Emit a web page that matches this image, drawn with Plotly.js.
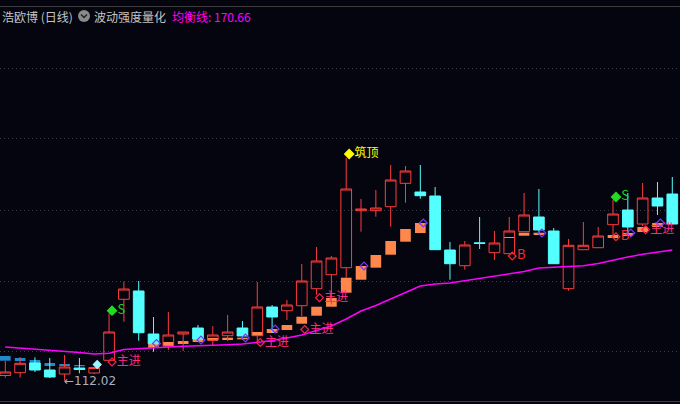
<!DOCTYPE html>
<html><head><meta charset="utf-8">
<script src="https://cdn.plot.ly/plotly-3.0.1.min.js"></script>
<style>html,body{margin:0;padding:0;background:#05050f;}#chart{width:680px;height:404px;}</style>
</head><body><div id="chart"></div>
<script>
// ---- candle data (price units) ----
const openP  = [114.27,115.52,119.88,116.74,114.94,117.64,115.39,121.10,148.51,152.24,132.91,127.52,132.91,135.61,130.22,132.15,135.61,132.15,145.05,143.38,145.63,153.27,159.56,162.71,188.32,188.32,190.12,200.63,196.72,194.92,170.66,163.60,173.90,169.45,169.00,178.88,185.49,179.20,153.27,170.79,171.69,182.03,188.63,182.34,194.02,195.82];
const highP  = [120.78,122.58,122.44,122.13,123.48,122.13,118.09,142.22,156.41,156.73,140.55,142.80,133.81,136.96,136.51,141.45,138.76,156.28,145.95,148.19,164.37,172.01,167.96,212.00,193.58,197.62,208.85,208.40,208.85,198.97,174.25,174.70,185.49,179.20,185.49,196.27,198.07,180.54,175.60,183.24,180.99,193.13,196.27,200.76,201.21,203.46];
const lowP   = [113.28,113.37,115.84,113.14,112.02,115.26,114.94,121.01,138.44,129.90,124.96,125.72,125.28,129.32,127.52,129.77,130.22,129.77,133.36,139.21,141.00,150.57,146.08,158.21,178.88,185.62,181.13,191.91,193.71,170.79,157.31,161.81,171.11,166.17,168.90,178.88,177.40,164.50,152.37,170.79,171.69,176.64,178.30,181.44,186.39,182.34];
const closeP = [115.84,119.75,116.74,113.59,118.09,116.96,117.86,133.81,153.13,133.50,128.56,132.47,133.81,130.67,132.47,133.81,132.02,145.05,140.55,145.95,156.73,165.72,167.06,198.07,189.08,189.53,202.11,206.16,195.06,170.79,164.50,172.91,173.58,173.80,179.20,186.39,179.65,164.50,172.77,172.77,176.95,186.83,180.99,194.02,190.43,182.34];

// ---- 均衡线 ----
const avgLine = [127.07,126.62,126.17,125.72,125.28,124.60,123.93,124.24,125.95,126.40,
                 126.62,127.07,127.39,127.52,127.75,128.11,128.42,129.09,129.99,131.12,
                 132.47,134.49,136.51,139.65,143.25,145.72,148.51,151.56,154.48,155.38,
                 155.83,156.86,157.94,158.75,159.87,161.00,162.57,162.89,163.16,163.60,
                 164.59,166.17,167.51,168.73,169.54,170.66];

// ---- 波动强度 bars ----
const blueIdx    = [0,1,2,3,4,5];
const blueBottom = [120.92,120.78,119.88,118.54,118.54,118.40];
const blueTop    = [123.03,122.13,121.23,119.88,119.43,118.98];
const orangeIdx    = [10,11,12,13,14,15,16,17,18,19,20,21,22,23,24,25,26,27,28,34,35,36,41,42,43,44];
const orangeBottom = [126.62,127.52,128.42,129.32,129.90,130.22,130.53,132.15,133.36,134.71,137.54,141.14,145.18,151.47,157.31,162.71,168.55,174.39,178.30,176.05,177.08,177.40,176.05,176.95,178.75,180.99];
const orangeTop    = [128.56,129.32,129.77,130.67,131.12,131.25,131.25,133.81,135.16,136.96,140.69,145.18,149.09,158.21,163.47,168.41,174.70,180.10,182.79,176.50,178.43,178.43,177.40,178.30,180.99,182.79];

// ---- signal markers ----
const purpleIdx = [10,13,16,18,24,28,36,42,44];
const purplePrice = [128.65,130.22,131.12,135.16,163.47,182.79,178.30,178.30,182.79];
const zhujinIdx = [7,17,20,21,43];
const zhujinPrice = [120.33,129.09,134.94,149.23,179.78];
const buyIdx = [34,41];
const buyPrice = [167.96,176.64];
const sellIdx = [7,41];
const sellPrice = [143.38,194.47];
const topIdx = [23];
const topPrice = [213.80];
const cyanIdx = [6];
const cyanPrice = [119.21];
const lowestIdx = 4;

// ---- gridlines ----
const gridVals = [124.83,156.73,188.63,220.54,252.44];
const yRange = [102.81,279.85];

const FONT = '"Noto Sans CJK SC", "Noto Sans", sans-serif';
const idx = openP.map((_, i) => i);
const DX = 0.2;
const sh = a => a.map(i => i + DX);

function markTrace(ix, py, symbol, color, size, text, tcolor, tsize) {
  return {
    type: 'scatter', mode: text ? 'markers+text' : 'markers',
    x: sh(ix), y: py,
    marker: { symbol: symbol, color: color, size: size, line: { color: color, width: 1.2 } },
    text: text ? ix.map(() => text) : undefined,
    textposition: 'middle right',
    textfont: { family: FONT, size: tsize || 12, color: tcolor },
    hoverinfo: 'skip', cliponaxis: false
  };
}

const traces = [
  { type: 'bar', x: blueIdx, base: blueBottom, y: blueTop.map((t, k) => t - blueBottom[k]),
    width: 0.72, marker: { color: '#2088cc', line: { width: 0 } }, hoverinfo: 'skip' },
  { type: 'bar', x: orangeIdx, base: orangeBottom, y: orangeTop.map((t, k) => t - orangeBottom[k]),
    width: 0.72, marker: { color: '#ff874b', line: { width: 0 } }, hoverinfo: 'skip' },
  { type: 'candlestick', x: idx, open: openP, high: highP, low: lowP, close: closeP,
    increasing: { line: { color: '#ff3c3c', width: 1 }, fillcolor: 'rgba(0,0,0,0)' },
    decreasing: { line: { color: '#54ffff', width: 1 }, fillcolor: '#54ffff' },
    whiskerwidth: 0, hoverinfo: 'skip' },
  { type: 'scatter', mode: 'lines', x: idx, y: avgLine, line: { color: '#ff00ff', width: 1.5 }, hoverinfo: 'skip' },
  markTrace(purpleIdx, purplePrice, 'diamond-open', '#7b35ff', 6, null),
  markTrace(zhujinIdx, zhujinPrice, 'diamond-open', '#ff2050', 6, '主进', '#ff2a80', 12),
  markTrace(buyIdx, buyPrice, 'diamond-open', '#ff2828', 6, 'B', '#ff2828', 13),
  markTrace(sellIdx, sellPrice, 'diamond', '#22dd22', 7, 'S', '#22cc22', 13),
  markTrace(topIdx, topPrice, 'diamond', '#ffff00', 7, '筑顶', '#ffff00', 12),
  markTrace(cyanIdx, cyanPrice, 'diamond', '#9ff4ff', 6, null)
];

const PLOT_TOP = 7, PLOT_BOT = 401, PH = PLOT_BOT - PLOT_TOP;
const py = px => (PLOT_BOT - px) / PH;

const layout = {
  width: 680, height: 404,
  margin: { l: 0, r: 0, t: 7, b: 3, pad: 0 },
  paper_bgcolor: '#05050f', plot_bgcolor: '#05050f',
  showlegend: false, barmode: 'overlay', boxgap: 0.28, boxgroupgap: 0,
  xaxis: { range: [-0.358, 45.52], showgrid: false, zeroline: false, showticklabels: false, ticks: '',
           showline: true, linecolor: '#3c3c3c', linewidth: 1, mirror: true,
           rangeslider: { visible: false }, fixedrange: true },
  yaxis: { range: yRange, tickvals: gridVals, showticklabels: false, ticks: '',
           gridcolor: '#3e3e4a', griddash: '1px,3px', gridwidth: 1, zeroline: false, showline: false, fixedrange: true },
  annotations: [
    { xref: 'paper', yref: 'paper', x: 0, y: py(16), xanchor: 'left', yanchor: 'middle', showarrow: false,
      text: '浩欧博 (日线)', font: { family: FONT, size: 12, color: '#c4c4c4' } },
    { xref: 'paper', yref: 'paper', x: 92 / 680, y: py(16), xanchor: 'left', yanchor: 'middle', showarrow: false,
      text: '波动强度量化', font: { family: FONT, size: 12, color: '#c4c4c4' } },
    { xref: 'paper', yref: 'paper', x: 170 / 680, y: py(16), xanchor: 'left', yanchor: 'middle', showarrow: false,
      text: '均衡线: ' + avgLine[avgLine.length - 1].toFixed(2), font: { family: FONT, size: 12, color: '#ff00ff' } },
    { xref: 'x', yref: 'y', x: lowestIdx, y: lowP[lowestIdx], xanchor: 'left', yanchor: 'middle', showarrow: false,
      xshift: -3, text: '←' + lowP[lowestIdx].toFixed(2), font: { family: '"DejaVu Sans", sans-serif', size: 12, color: '#a8b4c0' } }
  ],
  shapes: [
    { type: 'circle', xref: 'paper', yref: 'paper', xsizemode: 'pixel', ysizemode: 'pixel',
      xanchor: 84 / 680, yanchor: py(16), x0: -6, x1: 6, y0: -6, y1: 6,
      fillcolor: '#8a8a8a', line: { width: 0 } },
    { type: 'path', xref: 'paper', yref: 'paper', xsizemode: 'pixel', ysizemode: 'pixel',
      xanchor: 84 / 680, yanchor: py(16), path: 'M -3,1.5 L 0,-1.5 L 3,1.5',
      line: { color: '#222222', width: 1.5 } }
  ]
};

Plotly.newPlot('chart', traces, layout, { displayModeBar: false, staticPlot: true });
</script></body></html>
